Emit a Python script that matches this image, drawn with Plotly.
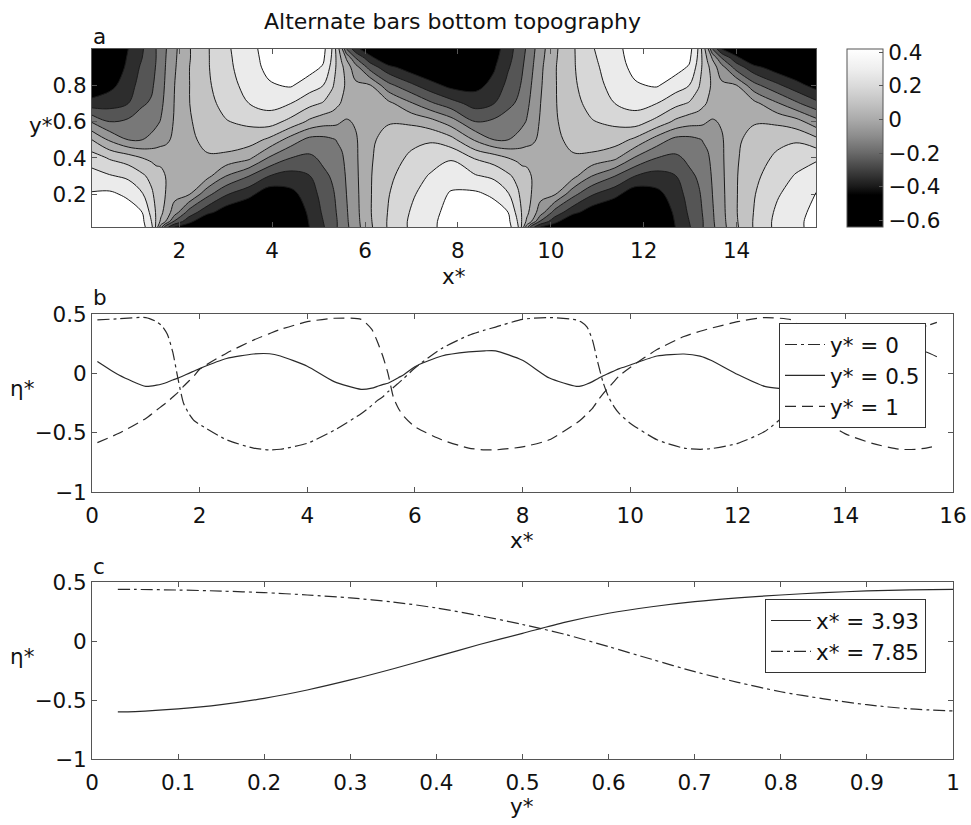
import numpy as np
import plotly.graph_objects as go

FONT = "DejaVu Sans"
INK = "#111111"
AXC = "#555555"
FS = 21.5

# ---------------- panel a : bottom topography ----------------
Y_A = [0.02, 0.05, 0.1, 0.2, 0.3, 0.4, 0.5, 0.6, 0.7, 0.8, 0.9, 0.95, 1.0]
X_A = [0.12, 0.5, 0.9, 1.2, 1.4, 1.5, 1.6, 1.7, 1.9, 2.2, 2.6, 3.0, 3.5, 3.93, 4.4, 4.8,
       5.1, 5.3, 5.4, 5.5, 5.6, 5.8, 6.1, 6.5, 7.0, 7.4,
       7.85, 8.38, 8.78, 9.08, 9.28, 9.38, 9.48, 9.58, 9.78, 10.08, 10.48, 10.88, 11.38,
       11.81, 12.28, 12.68, 12.98, 13.18, 13.28, 13.38, 13.48, 13.68, 13.98, 14.38, 14.88,
       15.28, 15.71]
# one profile (values at Y_A) per X_A column
ETA_COLS = [
    [0.45, 0.45, 0.44, 0.41, 0.34, 0.25, 0.10, -0.11, -0.36, -0.49, -0.56, -0.575, -0.584],
    [0.46, 0.46, 0.455, 0.42, 0.31, 0.19, -0.014, -0.20, -0.34, -0.43, -0.48, -0.495, -0.505],
    [0.47, 0.465, 0.45, 0.38, 0.28, 0.15, -0.10, -0.18, -0.30, -0.35, -0.38, -0.39, -0.40],
    [0.435, 0.425, 0.40, 0.31, 0.22, 0.10, -0.10, -0.16, -0.21, -0.25, -0.28, -0.30, -0.31],
    [0.33, 0.30, 0.27, 0.22, 0.17, 0.08, -0.075, -0.14, -0.19, -0.215, -0.23, -0.235, -0.24],
    [0.18, 0.19, 0.19, 0.17, 0.14, 0.07, -0.056, -0.12, -0.16, -0.18, -0.195, -0.20, -0.20],
    [-0.05, 0.08, 0.13, 0.15, 0.13, 0.07, -0.04, -0.095, -0.125, -0.14, -0.15, -0.155, -0.16],
    [-0.25, 0.0, 0.06, 0.10, 0.10, 0.05, -0.02, -0.055, -0.075, -0.09, -0.10, -0.105, -0.11],
    [-0.40, -0.22, -0.05, 0.03, 0.04, 0.035, 0.02, 0.01, 0.005, 0.0, -0.01, -0.015, -0.02],
    [-0.48, -0.36, -0.24, 0.01, 0.05, 0.065, 0.07, 0.085, 0.095, 0.095, 0.095, 0.09, 0.09],
    [-0.58, -0.53, -0.37, -0.17, 0.03, 0.085, 0.135, 0.16, 0.175, 0.185, 0.19, 0.19, 0.19],
    [-0.63, -0.57, -0.46, -0.29, -0.10, 0.07, 0.163, 0.195, 0.225, 0.25, 0.27, 0.275, 0.28],
    [-0.645, -0.60, -0.52, -0.37, -0.20, 0.02, 0.146, 0.22, 0.30, 0.34, 0.36, 0.365, 0.37],
    [-0.60, -0.595, -0.575, -0.47, -0.30, -0.11, 0.08, 0.245, 0.335, 0.39, 0.424, 0.432, 0.438],
    [-0.50, -0.495, -0.48, -0.43, -0.34, -0.20, -0.045, 0.17, 0.30, 0.41, 0.45, 0.455, 0.46],
    [-0.40, -0.395, -0.385, -0.355, -0.305, -0.22, -0.13, 0.08, 0.23, 0.35, 0.44, 0.46, 0.465],
    [-0.31, -0.30, -0.285, -0.26, -0.22, -0.18, -0.13, 0.04, 0.19, 0.30, 0.39, 0.415, 0.43],
    [-0.23, -0.225, -0.22, -0.21, -0.19, -0.15, -0.11, 0.03, 0.15, 0.21, 0.26, 0.28, 0.29],
    [-0.20, -0.20, -0.195, -0.185, -0.165, -0.13, -0.095, 0.02, 0.12, 0.16, 0.175, 0.17, 0.15],
    [-0.155, -0.15, -0.145, -0.14, -0.13, -0.11, -0.084, 0.0, 0.09, 0.13, 0.12, 0.08, 0.02],
    [-0.12, -0.115, -0.11, -0.10, -0.09, -0.08, -0.06, -0.01, 0.06, 0.08, 0.05, -0.01, -0.20],
    [-0.04, -0.035, -0.03, -0.025, -0.02, -0.015, -0.01, 0.01, 0.03, 0.02, -0.06, -0.20, -0.365],
    [0.08, 0.085, 0.09, 0.09, 0.09, 0.085, 0.075, 0.065, 0.05, 0.01, -0.24, -0.36, -0.48],
    [0.21, 0.21, 0.205, 0.195, 0.18, 0.165, 0.146, 0.09, 0.03, -0.17, -0.37, -0.51, -0.56],
    [0.32, 0.32, 0.31, 0.285, 0.25, 0.215, 0.18, 0.08, -0.09, -0.28, -0.46, -0.57, -0.63],
    [0.38, 0.38, 0.37, 0.35, 0.31, 0.25, 0.19, 0.04, -0.18, -0.36, -0.51, -0.59, -0.645],
    [0.44, 0.437, 0.432, 0.41, 0.36, 0.29, 0.135, -0.05, -0.26, -0.43, -0.54, -0.57, -0.59],
    [0.46, 0.46, 0.455, 0.42, 0.31, 0.19, -0.014, -0.20, -0.34, -0.43, -0.50, -0.54, -0.57],
    [0.47, 0.465, 0.45, 0.38, 0.28, 0.15, -0.10, -0.18, -0.30, -0.37, -0.41, -0.43, -0.45],
    [0.435, 0.425, 0.40, 0.31, 0.22, 0.10, -0.10, -0.16, -0.22, -0.27, -0.31, -0.33, -0.34],
    [0.33, 0.30, 0.27, 0.22, 0.17, 0.08, -0.075, -0.14, -0.19, -0.22, -0.25, -0.26, -0.27],
    [0.18, 0.19, 0.19, 0.17, 0.14, 0.07, -0.056, -0.12, -0.16, -0.19, -0.21, -0.22, -0.23],
    [-0.05, 0.08, 0.13, 0.15, 0.13, 0.07, -0.04, -0.095, -0.125, -0.15, -0.17, -0.18, -0.19],
    [-0.25, 0.0, 0.06, 0.10, 0.10, 0.05, -0.02, -0.055, -0.08, -0.10, -0.12, -0.13, -0.14],
    [-0.40, -0.22, -0.05, 0.03, 0.04, 0.035, 0.02, 0.01, 0.0, -0.01, -0.02, -0.03, -0.04],
    [-0.48, -0.36, -0.24, 0.01, 0.05, 0.065, 0.07, 0.085, 0.09, 0.09, 0.09, 0.085, 0.08],
    [-0.58, -0.53, -0.37, -0.17, 0.03, 0.085, 0.135, 0.16, 0.175, 0.185, 0.19, 0.19, 0.19],
    [-0.63, -0.57, -0.46, -0.29, -0.10, 0.07, 0.163, 0.195, 0.225, 0.25, 0.27, 0.28, 0.29],
    [-0.645, -0.60, -0.52, -0.37, -0.20, 0.02, 0.146, 0.22, 0.30, 0.34, 0.36, 0.37, 0.375],
    [-0.60, -0.595, -0.575, -0.47, -0.30, -0.11, 0.08, 0.245, 0.335, 0.39, 0.424, 0.432, 0.438],
    [-0.50, -0.495, -0.48, -0.43, -0.34, -0.20, -0.045, 0.17, 0.30, 0.41, 0.45, 0.46, 0.465],
    [-0.40, -0.395, -0.385, -0.355, -0.305, -0.22, -0.13, 0.08, 0.23, 0.35, 0.44, 0.46, 0.47],
    [-0.31, -0.30, -0.285, -0.26, -0.22, -0.18, -0.13, 0.04, 0.19, 0.30, 0.39, 0.42, 0.44],
    [-0.23, -0.225, -0.22, -0.21, -0.19, -0.15, -0.11, 0.03, 0.15, 0.21, 0.26, 0.28, 0.29],
    [-0.20, -0.20, -0.195, -0.185, -0.165, -0.13, -0.095, 0.02, 0.12, 0.16, 0.175, 0.17, 0.15],
    [-0.155, -0.15, -0.145, -0.14, -0.13, -0.11, -0.084, 0.0, 0.09, 0.13, 0.12, 0.08, 0.02],
    [-0.12, -0.115, -0.11, -0.10, -0.09, -0.08, -0.06, -0.01, 0.06, 0.08, 0.05, -0.01, -0.20],
    [-0.04, -0.035, -0.03, -0.025, -0.02, -0.015, -0.01, 0.01, 0.03, 0.02, -0.06, -0.20, -0.40],
    [0.08, 0.085, 0.09, 0.09, 0.09, 0.085, 0.075, 0.065, 0.05, 0.01, -0.24, -0.36, -0.50],
    [0.21, 0.21, 0.205, 0.195, 0.18, 0.165, 0.146, 0.09, 0.03, -0.17, -0.37, -0.52, -0.59],
    [0.33, 0.33, 0.32, 0.29, 0.25, 0.215, 0.18, 0.08, -0.09, -0.28, -0.46, -0.58, -0.64],
    [0.38, 0.38, 0.37, 0.35, 0.31, 0.25, 0.19, 0.04, -0.18, -0.36, -0.51, -0.59, -0.635],
    [0.43, 0.43, 0.425, 0.405, 0.355, 0.285, 0.13, -0.06, -0.27, -0.44, -0.55, -0.59, -0.61],
]
LEVEL_START, LEVEL_END, LEVEL_STEP = -0.4, 0.4, 0.1
# grey of each filled band, from "below -0.4" up to "above 0.4"
BAND_GREYS = [0, 45, 85, 120, 150, 172, 195, 215, 235, 255]
# continuous colour bar
CBAR_MIN, CBAR_MAX = -0.64, 0.42
CBAR_STOPS = [(-0.64, 0), (-0.45, 0), (-0.40, 25), (-0.30, 65), (-0.20, 105), (-0.10, 140),
              (0.0, 170), (0.10, 195), (0.20, 218), (0.30, 238), (0.42, 255)]
CBAR_TICKS = [-0.6, -0.4, -0.2, 0, 0.2, 0.4]

# ---------------- panel b : longitudinal profiles ----------------
X_B = [0.1, 0.5, 1.0, 1.2, 1.3, 1.4, 1.5, 1.6, 1.7, 1.8,
       1.9, 2.0, 2.5, 3.0, 3.3, 3.5, 4.0, 4.5, 5.0, 5.2,
       5.3, 5.4, 5.5, 5.6, 5.7, 5.8, 6.0, 6.5, 7.0, 7.3,
       7.5, 8.0, 8.5, 9.0, 9.1, 9.2, 9.3, 9.4, 9.5, 9.6,
       9.7, 9.8, 10.0, 10.5, 11.0, 11.3, 11.5, 12.0, 12.5, 13.0,
       13.1, 13.2, 13.3, 13.4, 13.5, 13.6, 13.7, 14.0, 14.5, 15.0,
       15.3, 15.5, 15.7]
ETA_Y0 = [0.45, 0.46, 0.47, 0.435, 0.40, 0.33, 0.18, -0.05, -0.25, -0.34,
          -0.40, -0.43, -0.56, -0.63, -0.645, -0.64, -0.59, -0.48, -0.34, -0.27,
          -0.23, -0.20, -0.155, -0.12, -0.08, -0.04, 0.045, 0.21, 0.32, 0.365,
          0.39, 0.455, 0.47, 0.45, 0.43, 0.39, 0.28, 0.09, -0.08, -0.20,
          -0.28, -0.34, -0.42, -0.56, -0.63, -0.64, -0.635, -0.59, -0.49, -0.31,
          -0.28, -0.25, -0.21, -0.18, -0.14, -0.10, -0.06, 0.05, 0.21, 0.33,
          0.38, 0.40, 0.43]
ETA_Y05 = [0.10, -0.014, -0.11, -0.10, -0.09, -0.075, -0.056, -0.04, -0.02, 0.0,
           0.02, 0.04, 0.125, 0.163, 0.165, 0.146, 0.06, -0.07, -0.135, -0.125,
           -0.11, -0.095, -0.084, -0.06, -0.035, -0.01, 0.056, 0.146, 0.18, 0.19,
           0.19, 0.11, -0.04, -0.11, -0.105, -0.09, -0.07, -0.045, -0.02, 0.0,
           0.02, 0.04, 0.07, 0.146, 0.163, 0.145, 0.11, -0.01, -0.11, -0.135,
           -0.13, -0.125, -0.115, -0.10, -0.085, -0.065, -0.04, 0.05, 0.14, 0.18,
           0.19, 0.18, 0.14]
ETA_Y1 = [-0.584, -0.505, -0.38, -0.31, -0.275, -0.24, -0.20, -0.16, -0.11, -0.065,
          -0.02, 0.034, 0.17, 0.28, 0.335, 0.37, 0.435, 0.464, 0.455, 0.37,
          0.27, 0.15, 0.0, -0.20, -0.30, -0.365, -0.45, -0.56, -0.63, -0.645,
          -0.645, -0.62, -0.56, -0.42, -0.385, -0.34, -0.295, -0.23, -0.17, -0.12,
          -0.07, -0.02, 0.05, 0.20, 0.31, 0.355, 0.38, 0.435, 0.47, 0.45,
          0.41, 0.33, 0.20, 0.05, -0.12, -0.30, -0.42, -0.51, -0.59, -0.64,
          -0.64, -0.63, -0.61]
NAMES_B = ["y* = 0", "y* = 0.5", "y* = 1"]

# ---------------- panel c : transverse profiles ----------------
Y_C = [0.03, 0.05, 0.1, 0.15, 0.2, 0.25, 0.3, 0.35, 0.4, 0.45, 0.5,
       0.55, 0.6, 0.65, 0.7, 0.75, 0.8, 0.85, 0.9, 0.95, 1.0]
ETA_X393 = [-0.60, -0.598, -0.576, -0.54, -0.486, -0.415, -0.33, -0.235, -0.133, -0.03, 0.065,
            0.16, 0.235, 0.29, 0.333, 0.365, 0.39, 0.41, 0.424, 0.433, 0.438]
ETA_X785 = [0.438, 0.437, 0.432, 0.423, 0.41, 0.39, 0.365, 0.33, 0.28, 0.215, 0.14,
            0.055, -0.048, -0.155, -0.26, -0.35, -0.43, -0.49, -0.54, -0.575, -0.593]
NAMES_C = ["x* = 3.93", "x* = 7.85"]

DASHDOT = "12px,4px,3px,4px"
DASHED = "11px,6px"
LINE_C = "#2a2a2a"

W, H = 971, 825


def px_x(p):
    return p / W


def px_y(p):
    return 1 - p / H


Z_A = np.array(ETA_COLS).T.tolist()
fill_scale = [[k / (len(BAND_GREYS) - 1), f"rgb({g},{g},{g})"] for k, g in enumerate(BAND_GREYS)]
bar_scale = [[(v - CBAR_MIN) / (CBAR_MAX - CBAR_MIN), f"rgb({g},{g},{g})"] for v, g in CBAR_STOPS]

fig = go.Figure()

fig.add_trace(go.Contour(
    x=X_A, y=Y_A, z=Z_A, xaxis="x", yaxis="y",
    contours=dict(start=LEVEL_START, end=LEVEL_END, size=LEVEL_STEP, coloring="fill"),
    colorscale=fill_scale, line=dict(color="#1a1a1a", width=1, smoothing=1.0),
    showscale=False, hoverinfo="skip", showlegend=False,
))
# colour bar (continuous grey ramp)
fig.add_trace(go.Scatter(
    x=[X_A[0]], y=[Y_A[0]], xaxis="x", yaxis="y", mode="markers",
    marker=dict(size=1, opacity=0, color=[CBAR_MIN], cmin=CBAR_MIN, cmax=CBAR_MAX,
                colorscale=bar_scale, showscale=True,
                colorbar=dict(x=px_x(847), xanchor="left", y=px_y(138), yanchor="middle",
                              len=178 / H, lenmode="fraction", thickness=36, thicknessmode="pixels",
                              xpad=0, ypad=0, outlinewidth=1, outlinecolor=AXC,
                              tickvals=CBAR_TICKS, ticks="inside", ticklen=4, tickcolor=AXC,
                              tickfont=dict(family=FONT, size=FS, color=INK))),
    showlegend=False, hoverinfo="skip",
))

styles_b = [dict(dash=DASHDOT), dict(dash="solid"), dict(dash=DASHED)]
for name, ys, st in zip(NAMES_B, [ETA_Y0, ETA_Y05, ETA_Y1], styles_b):
    fig.add_trace(go.Scatter(x=X_B, y=ys, name=name, mode="lines", xaxis="x2", yaxis="y2",
                             line=dict(color=LINE_C, width=1.2, shape="spline", smoothing=0.6, **st),
                             legend="legend"))

styles_c = [dict(dash="solid"), dict(dash=DASHDOT)]
for name, ys, st in zip(NAMES_C, [ETA_X393, ETA_X785], styles_c):
    fig.add_trace(go.Scatter(x=Y_C, y=ys, name=name, mode="lines", xaxis="x3", yaxis="y3",
                             line=dict(color=LINE_C, width=1.2, shape="spline", smoothing=0.8, **st),
                             legend="legend2"))

common = dict(showline=True, linecolor=AXC, linewidth=1, mirror="ticks", ticks="inside",
              ticklen=5, tickcolor=AXC, showgrid=False, zeroline=False, automargin=False,
              tickfont=dict(family=FONT, size=FS, color=INK))

fig.update_layout(
    width=W, height=H, margin=dict(l=0, r=0, t=0, b=0, autoexpand=False),
    paper_bgcolor="white", plot_bgcolor="white",
    xaxis=dict(domain=[px_x(92), px_x(816)], range=[X_A[0], X_A[-1]], tickvals=[2, 4, 6, 8, 10, 12, 14],
               anchor="y", ticklabelstandoff=4, **common),
    yaxis=dict(domain=[px_y(227), px_y(49)], range=[Y_A[0], Y_A[-1]], tickvals=[0.2, 0.4, 0.6, 0.8],
               anchor="x", **common),
    xaxis2=dict(domain=[px_x(92), px_x(953)], range=[0, 16], tickvals=list(range(0, 17, 2)),
                anchor="y2", ticklabelstandoff=4, **common),
    yaxis2=dict(domain=[px_y(492), px_y(314)], range=[-1, 0.5], tickvals=[-1, -0.5, 0, 0.5],
                anchor="x2", **common),
    xaxis3=dict(domain=[px_x(92), px_x(953)], range=[0, 1], tickvals=[i / 10 for i in range(11)],
                anchor="y3", ticklabelstandoff=4, **common),
    yaxis3=dict(domain=[px_y(759), px_y(582)], range=[-1, 0.5], tickvals=[-1, -0.5, 0, 0.5],
                anchor="x3", **common),
    legend=dict(x=px_x(779), y=px_y(323), xanchor="left", yanchor="top", bgcolor="white",
                bordercolor="#333", borderwidth=1, font=dict(family=FONT, size=FS, color=INK),
                itemwidth=40, tracegroupgap=0),
    legend2=dict(x=px_x(765), y=px_y(599), xanchor="left", yanchor="top", bgcolor="white",
                 bordercolor="#333", borderwidth=1, font=dict(family=FONT, size=FS, color=INK),
                 itemwidth=40, tracegroupgap=0),
    showlegend=True,
)


def note(text, xp, yp, size=FS, xanchor="center"):
    fig.add_annotation(text=text, x=px_x(xp), y=px_y(yp), xref="paper", yref="paper",
                       showarrow=False, xanchor=xanchor, yanchor="middle",
                       font=dict(family=FONT, size=size, color=INK))


note("Alternate bars bottom topography", 452, 21, size=22)
note("a", 91, 36, xanchor="left")
note("b", 91, 297, xanchor="left")
note("c", 91, 566, xanchor="left")
note("x*", 454, 277)
note("y*", 41, 126)
note("x*", 522, 540)
note("η*", 22, 389)
note("y*", 522, 806)
note("η*", 22, 656)

fig.write_html("out.html", config={"displayModeBar": False},
               post_script="document.body.style.margin='0px';document.body.style.overflow='hidden';")
